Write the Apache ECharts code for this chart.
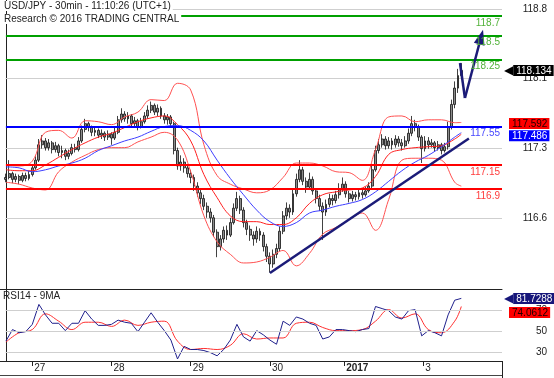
<!DOCTYPE html>
<html>
<head>
<meta charset="utf-8">
<script src="https://cdn.jsdelivr.net/npm/echarts@6/dist/echarts.min.js"></script>
<style>
  html, body { margin: 0; padding: 0; background: #fff; }
  #chart { width: 554px; height: 378px; }
</style>
</head>
<body>
<div id="chart"></div>
<script>
/** price bars, one per slot; open is the previous close */
const firstOpen = 117.0;
const closes = [
  117.02, 117.06, 117.00, 117.03, 116.99, 117.04, 117.01, 117.05, 117.12, 117.20,
  117.36, 117.40, 117.33, 117.38, 117.31, 117.35, 117.28, 117.30, 117.24, 117.27,
  117.33, 117.31, 117.40, 117.52, 117.58, 117.54, 117.49, 117.51, 117.46, 117.48,
  117.44, 117.47, 117.43, 117.49, 117.62, 117.68, 117.63, 117.66, 117.58, 117.61,
  117.55, 117.60, 117.66, 117.72, 117.77, 117.70, 117.74, 117.66, 117.62, 117.65,
  117.58, 117.30, 117.14, 117.18, 117.12, 117.06, 117.02, 116.93, 116.86, 116.80,
  116.72, 116.66, 116.60, 116.45, 116.30, 116.38, 116.47, 116.42, 116.55, 116.70,
  116.80, 116.68, 116.55, 116.48, 116.42, 116.38, 116.46, 116.42, 116.30, 116.20,
  116.12, 116.22, 116.28, 116.46, 116.62, 116.70, 116.66, 116.85, 117.00, 117.10,
  116.98, 116.92, 117.00, 116.88, 116.80, 116.72, 116.66, 116.74, 116.80, 116.78,
  116.84, 116.90, 116.95, 116.85, 116.80, 116.84, 116.82, 116.86, 116.84, 116.88,
  116.93, 117.10, 117.30, 117.36, 117.42, 117.35, 117.40, 117.36, 117.42, 117.38,
  117.35, 117.40, 117.48, 117.58, 117.54, 117.44, 117.32, 117.40, 117.36, 117.38,
  117.33, 117.36, 117.30, 117.34, 117.55, 117.78, 117.95, 118.08, 118.134
];
const highs = [
  117.06, 117.20, 117.08, 117.06, 117.05, 117.07, 117.07, 117.09, 117.16, 117.24,
  117.42, 117.46, 117.43, 117.42, 117.40, 117.39, 117.37, 117.35, 117.32, 117.31,
  117.37, 117.37, 117.44, 117.56, 117.63, 117.60, 117.56, 117.55, 117.53, 117.52,
  117.50, 117.51, 117.49, 117.55, 117.66, 117.74, 117.71, 117.70, 117.68, 117.65,
  117.63, 117.64, 117.70, 117.77, 117.81, 117.79, 117.78, 117.76, 117.69, 117.68,
  117.67, 117.60, 117.33, 117.25, 117.22, 117.15, 117.10, 117.05, 116.97, 116.90,
  116.84, 116.76, 116.70, 116.63, 116.48, 116.42, 116.51, 116.52, 116.60, 116.75,
  116.87, 116.83, 116.71, 116.58, 116.52, 116.46, 116.51, 116.49, 116.45, 116.33,
  116.24, 116.27, 116.33, 116.51, 116.67, 116.76, 116.74, 116.90, 117.06, 117.20,
  117.13, 117.02, 117.07, 117.03, 116.91, 116.84, 116.76, 116.79, 116.85, 116.84,
  116.88, 116.96, 117.02, 116.98, 116.88, 116.88, 116.87, 116.90, 116.89, 116.92,
  116.97, 117.14, 117.35, 117.42, 117.47, 117.45, 117.44, 117.43, 117.46, 117.45,
  117.42, 117.45, 117.53, 117.66, 117.62, 117.57, 117.46, 117.45, 117.44, 117.42,
  117.40, 117.40, 117.38, 117.38, 117.60, 117.83, 118.02, 118.15, 118.21
];
const lows = [
  116.97, 117.00, 116.96, 116.97, 116.95, 116.97, 116.98, 116.99, 117.03, 117.10,
  117.18, 117.32, 117.30, 117.30, 117.27, 117.28, 117.24, 117.22, 117.20, 117.21,
  117.25, 117.28, 117.29, 117.38, 117.49, 117.50, 117.45, 117.45, 117.43, 117.42,
  117.40, 117.41, 117.36, 117.41, 117.47, 117.59, 117.60, 117.58, 117.54, 117.55,
  117.51, 117.53, 117.58, 117.63, 117.69, 117.67, 117.66, 117.63, 117.58, 117.57,
  117.55, 117.26, 117.10, 117.09, 117.07, 117.02, 116.96, 116.88, 116.82, 116.74,
  116.68, 116.60, 116.55, 116.40, 116.19, 116.26, 116.34, 116.37, 116.40, 116.53,
  116.67, 116.64, 116.50, 116.42, 116.36, 116.31, 116.34, 116.36, 116.25, 116.14,
  116.03, 116.08, 116.18, 116.25, 116.43, 116.58, 116.60, 116.63, 116.82, 116.97,
  116.94, 116.86, 116.89, 116.84, 116.75, 116.67, 116.37, 116.62, 116.71, 116.73,
  116.75, 116.80, 116.87, 116.81, 116.76, 116.77, 116.78, 116.79, 116.80, 116.82,
  116.86, 116.91, 117.08, 117.27, 117.33, 117.31, 117.32, 117.31, 117.33, 117.34,
  117.30, 117.33, 117.37, 117.45, 117.50, 117.40, 117.17, 117.29, 117.32, 117.33,
  117.29, 117.30, 117.26, 117.28, 117.31, 117.52, 117.74, 117.90, 118.04
];

/** overlays read every 4 bars (plus the last bar) */
const bandIdx = [0, 4, 8, 12, 16, 20, 24, 28, 32, 36, 40, 44, 48, 52, 56, 60, 64, 68,
  72, 76, 80, 84, 88, 92, 96, 100, 104, 108, 112, 116, 120, 124, 128, 132, 136, 138];
const bbUpper = [117.15, 117.14, 117.19, 117.49, 117.51, 117.43, 117.61, 117.60, 117.57,
  117.65, 117.70, 117.83, 117.82, 118.00, 117.93, 117.36, 117.04, 116.95, 116.90, 116.86,
  116.89, 117.02, 117.17, 117.17, 117.14, 117.08, 117.07, 116.99, 117.31, 117.65, 117.66,
  117.60, 117.62, 117.62, 117.59, 117.592];
const bbMid = [117.10, 117.09, 117.09, 117.15, 117.23, 117.31, 117.38, 117.44, 117.48,
  117.54, 117.60, 117.64, 117.66, 117.57, 117.40, 117.05, 116.81, 116.62, 116.56, 116.56,
  116.53, 116.53, 116.60, 116.75, 116.84, 116.87, 116.89, 116.91, 117.03, 117.26, 117.31,
  117.33, 117.34, 117.35, 117.42, 117.47];
const bbLower = [116.97, 116.95, 116.91, 116.89, 117.08, 117.18, 117.25, 117.31, 117.33,
  117.33, 117.39, 117.44, 117.49, 117.41, 117.08, 116.62, 116.35, 116.22, 116.13, 116.14,
  116.19, 116.26, 116.10, 116.23, 116.43, 116.50, 116.58, 116.65, 116.47, 116.79, 117.20,
  117.22, 117.22, 117.20, 116.97, 116.93];
const movingAvg = [117.13, 117.12, 117.08, 117.10, 117.14, 117.17, 117.22, 117.30, 117.35,
  117.40, 117.44, 117.50, 117.55, 117.56, 117.51, 117.40, 117.20, 117.01, 116.84, 116.68,
  116.56, 116.51, 116.55, 116.65, 116.68, 116.72, 116.75, 116.79, 116.87, 116.98, 117.09,
  117.18, 117.25, 117.34, 117.44, 117.486];

/** RSI read every 2 bars, its 9MA every 4 bars */
const rsiIdx = Array.from({ length: 70 }, (_, k) => k * 2);
const rsi = [
  41, 52, 49, 50, 57, 76, 66, 58, 58, 51,
  58, 58, 70, 62, 56, 56, 57, 61, 59, 58,
  50, 59, 68, 59, 51, 42, 24, 36, 33, 33,
  32, 30, 27, 33, 42, 57, 45, 41, 51, 47,
  42, 38, 60, 56, 64, 62, 58, 56, 43, 45,
  52, 52, 51, 50, 52, 53, 74, 72, 70, 64,
  62, 70, 71, 46, 51, 49, 46, 66, 80, 81.7288
];
const rsiMa = [40, 49, 52, 67, 60, 52, 59, 59, 55, 61, 56, 59, 60, 41, 33, 34, 33, 37,
  48, 43, 44, 44, 58, 59, 54, 51, 51, 52, 60, 71, 63, 67, 52, 49, 60, 74.0612];

/** analyst levels */
const resistances = [118.7, 118.5, 118.25];
const pivots = [117.55];
const supports = [117.15, 116.9];
const trendline = [[80.0, 116.026], [140.3, 117.426]];
const projection = [[137.6, 118.211], [139.1, 117.847], [144.0, 118.482]];

/** axes */
const priceTicks = [116.6, 117.325, 118.05, 118.775];
const priceTickLabels = ['116.6', '117.3', '118.1', '118.8'];
const rsiTicks = [30, 50, 70];
const dayTicks = [8, 32, 56, 80, 102.5, 126.5];
const dayLabels = ['27', '28', '29', '30', '2017', '3'];

const font = "'Liberation Sans', Arial, Helvetica, sans-serif";
const ink = '#222';
const xMin = -1.79;
const xMax = 150.33;

const last = (arr) => arr[arr.length - 1];
const pairs = (idx, vals) => vals.map((v, k) => [idx[k], v]);
const nearest = (list, v) => list.findIndex((t) => Math.abs(t - v) < 1e-6);

/** one analyst level, drawn from the first bar to the right edge */
const level = (v, color, labelColor) => [
  {
    coord: [0, v],
    lineStyle: { color, width: 2, type: 'solid' },
    label: {
      show: true, position: 'insideEndBottom', formatter: String(v),
      color: labelColor, fontSize: 10, fontFamily: font, distance: 2,
    },
  },
  { coord: [xMax, v] },
];

/** pale grid row, same solid mechanism as the levels */
const gridRow = (v) => [
  {
    coord: [0, v],
    lineStyle: { color: '#cfcfcf', width: 1, type: 'solid' },
    label: { show: false },
  },
  { coord: [xMax, v] },
];

/** value tag on the price scale */
const tag = (v, bg, fg, arrow, dy) => [
  {
    coord: [xMin, v],
    lineStyle: { color: 'rgba(0,0,0,0)', width: 0 },
    label: {
      show: true,
      position: 'end',
      distance: arrow ? 2 : 7,
      offset: [0, dy || 0],
      formatter: arrow ? `{a|◀}{b|${v}}` : `{b|${v}}`,
      rich: {
        a: { color: bg, fontSize: 12, fontFamily: 'DejaVu Sans', lineHeight: 12 },
        b: {
          backgroundColor: bg, color: fg, fontSize: 10, fontFamily: font,
          padding: [1, 2, 0, 3], lineHeight: 12,
        },
      },
    },
  },
  { coord: [xMax, v] },
];

const thin = (color, width) => ({ color, width: width || 1 });

const option = {
  animation: false,
  textStyle: { fontFamily: font },
  title: [
    {
      text: 'USD/JPY - 30min - 11:10:26 (UTC+1)', left: 3, top: 1, padding: [0, 2, 0, 1],
      backgroundColor: '#fff',
      textStyle: { fontSize: 10, fontWeight: 'normal', color: ink, fontFamily: font },
    },
    {
      text: 'Research © 2016 TRADING CENTRAL', left: 3, top: 14, padding: [0, 2, 0, 1],
      backgroundColor: '#fff',
      textStyle: { fontSize: 10, fontWeight: 'normal', color: ink, fontFamily: font },
    },
    {
      text: 'RSI14 - 9MA', left: 3, top: 291, padding: 0,
      textStyle: { fontSize: 10, fontWeight: 'normal', color: ink, fontFamily: font },
    },
  ],
  grid: [
    { left: 0, right: 52, top: 0, height: 289 },
    { left: 0, right: 52, top: 289, height: 72 },
  ],
  xAxis: [
    {
      gridIndex: 0, type: 'value', min: xMin, max: xMax,
      axisLine: { show: true, onZero: false, lineStyle: { color: ink } },
      axisTick: { show: false }, axisLabel: { show: false }, splitLine: { show: false },
    },
    {
      gridIndex: 1, type: 'value', min: xMin, max: xMax,
      axisLine: { show: true, onZero: false, lineStyle: { color: ink } },
      axisTick: { show: true, customValues: dayTicks, length: 5, lineStyle: { color: ink } },
      axisLabel: {
        customValues: dayTicks, align: 'left', margin: 2, fontSize: 10, color: ink,
        padding: [0, 0, 0, 2],
        formatter: (v) => {
          const s = dayLabels[nearest(dayTicks, v)] || '';
          return s.length === 4 ? `{y|${s}}` : s;
        },
        rich: { y: { fontWeight: 'bold', fontSize: 10, color: ink, fontFamily: font } },
      },
      splitLine: { show: false },
    },
  ],
  yAxis: [
    {
      gridIndex: 0, type: 'value', position: 'right', min: 115.859, max: 118.867,
      axisLine: { show: true, lineStyle: { color: ink } },
      axisTick: { show: true, customValues: priceTicks, length: 4, lineStyle: { color: ink } },
      axisLabel: {
        customValues: priceTicks, align: 'right', margin: 45, fontSize: 10, color: ink,
        formatter: (v) => priceTickLabels[nearest(priceTicks, v)] || '',
      },
      splitLine: { show: false },
    },
    {
      gridIndex: 1, type: 'value', position: 'right', min: 22.05, max: 90.67,
      axisLine: { show: true, lineStyle: { color: ink } },
      axisTick: { show: true, customValues: rsiTicks, length: 4, lineStyle: { color: ink } },
      axisLabel: {
        customValues: rsiTicks, align: 'right', margin: 45, fontSize: 10, color: ink,
        formatter: (v) => String(v),
      },
      splitLine: { show: false },
    },
  ],
  series: [
    {
      name: 'bands', type: 'line', xAxisIndex: 0, yAxisIndex: 0, smooth: 0.4,
      showSymbol: false, lineStyle: thin('#ff5050'), data: pairs(bandIdx, bbUpper), z: 3,
      markLine: {
        silent: true, symbol: 'none', precision: 4, z: 1,
        data: [...priceTicks.map(gridRow), tag(last(bbUpper), '#ff0000', '#200000', false, 1)],
      },
    },
    {
      name: 'lower', type: 'line', xAxisIndex: 0, yAxisIndex: 0, smooth: 0.4,
      showSymbol: false, lineStyle: thin('#ff5050'), data: pairs(bandIdx, bbLower), z: 3,
    },
    {
      name: 'mid', type: 'line', xAxisIndex: 0, yAxisIndex: 0, smooth: 0.4,
      showSymbol: false, lineStyle: thin('#ff1f1f'), data: pairs(bandIdx, bbMid), z: 3,
    },
    {
      name: 'ma', type: 'line', xAxisIndex: 0, yAxisIndex: 0, smooth: 0.4,
      showSymbol: false, lineStyle: thin('#3d3dff'), data: pairs(bandIdx, movingAvg), z: 3,
      markLine: {
        silent: true, symbol: 'none', precision: 4,
        data: [tag(last(movingAvg), '#0000ff', '#fff', false, 3)],
      },
    },
    {
      name: 'price', type: 'candlestick', xAxisIndex: 0, yAxisIndex: 0, barWidth: 2.4, z: 2,
      data: closes.map((c, i) => [i, i ? closes[i - 1] : firstOpen, c, lows[i], highs[i]]),
      encode: { x: 0, y: [1, 2, 3, 4] },
      itemStyle: {
        color: '#8c8c8c', color0: '#8c8c8c',
        borderColor: '#111', borderColor0: '#111', borderWidth: 0.8,
      },
      markLine: {
        silent: true, symbol: 'none', precision: 4,
        data: [
          ...resistances.map((v) => level(v, '#00a000', '#52b23a')),
          ...pivots.map((v) => level(v, '#0000ff', '#4848ff')),
          ...supports.map((v) => level(v, '#ff0000', '#ff3c3c')),
          [
            { coord: trendline[0], lineStyle: { color: '#1b1b78', width: 2.5, type: 'solid' } },
            { coord: trendline[1] },
          ],
          [
            { coord: projection[0], lineStyle: { color: '#1b1b78', width: 2.5, type: 'solid' } },
            { coord: projection[1] },
          ],
          [
            { coord: projection[1], lineStyle: { color: '#1b1b78', width: 2.5, type: 'solid' } },
            { coord: projection[2], symbol: 'triangle', symbolSize: [11, 15] },
          ],
          tag(last(closes), '#000', '#fff', true, 0),
        ],
      },
    },
    {
      name: 'rsiMa', type: 'line', xAxisIndex: 1, yAxisIndex: 1, smooth: 0.4,
      showSymbol: false, lineStyle: thin('#ff3030'), data: pairs(bandIdx, rsiMa),
      markLine: {
        silent: true, symbol: 'none', precision: 4,
        data: [...rsiTicks.map(gridRow), tag(last(rsiMa), '#ff0000', '#200000', false, 6)],
      },
    },
    {
      name: 'rsi', type: 'line', xAxisIndex: 1, yAxisIndex: 1, z: 3,
      showSymbol: false, lineStyle: thin('#20208c'), data: pairs(rsiIdx, rsi),
      markLine: {
        silent: true, symbol: 'none', precision: 4,
        data: [tag(last(rsi), '#16167a', '#fff', true, 0)],
      },
    },
  ],
  graphic: [
    { type: 'line', shape: { x1: 0, y1: 375.5, x2: 502, y2: 375.5 }, style: { stroke: '#444', lineWidth: 1 } },
    { type: 'line', shape: { x1: 502.5, y1: 361, x2: 502.5, y2: 378 }, style: { stroke: ink, lineWidth: 1 } },
  ],
};

const chart = echarts.init(document.getElementById('chart'), null, { renderer: 'canvas' });
chart.setOption(option);
</script>
</body>
</html>
